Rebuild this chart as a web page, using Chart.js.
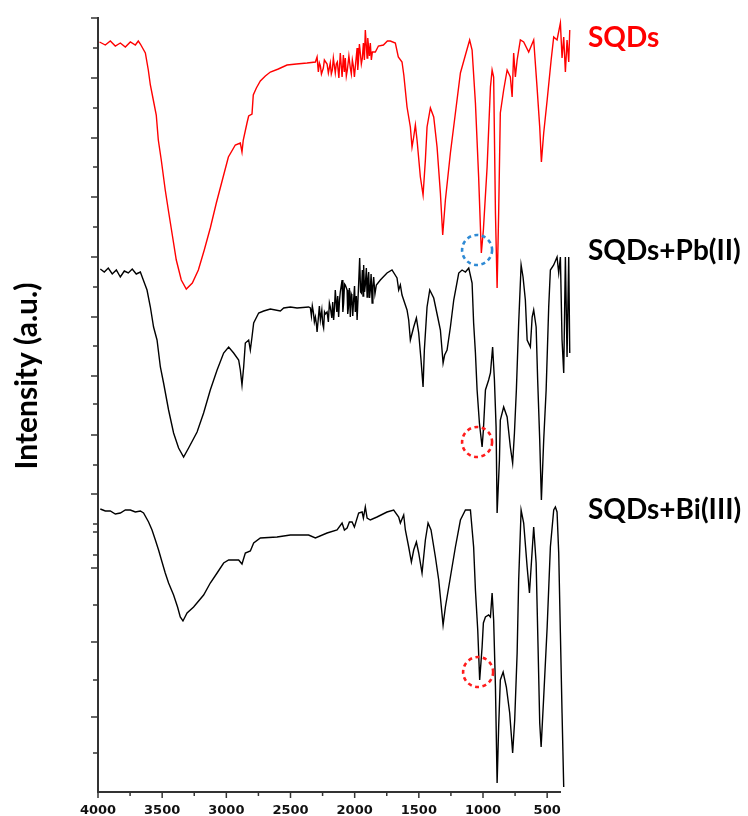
<!DOCTYPE html>
<html lang="en">
<head>
<meta charset="UTF-8">
<title>FTIR - SQDs</title>
<script src="https://cdn.jsdelivr.net/npm/chart.js@4.4.1/dist/chart.umd.min.js"></script>
<style>
  html, body { margin: 0; padding: 0; background: #fff; }
</style>
</head>
<body>
<canvas id="chart" width="748" height="816"></canvas>
<script>
// Wavenumbers (cm-1) and stacked intensities (a.u.) for each spectrum
const sqdsWn = [
  3988, 3943, 3904, 3865, 3826, 3787, 3748, 3709, 3686, 3670,
  3631, 3608, 3592, 3569, 3546, 3530, 3507, 3476, 3452, 3421,
  3390, 3351, 3312, 3265, 3218, 3172, 3125, 3078, 3031, 2984,
  2930, 2891, 2878, 2868, 2839, 2826, 2800, 2790, 2766, 2735,
  2696, 2657, 2595, 2527, 2454, 2371, 2306, 2293, 2283, 2275,
  2267, 2259, 2244, 2236, 2215, 2205, 2190, 2182, 2174, 2166,
  2151, 2143, 2135, 2123, 2112, 2098, 2088, 2080, 2073, 2065,
  2057, 2045, 2034, 2026, 2018, 2010, 2002, 1995, 1981, 1976,
  1971, 1963, 1956, 1948, 1940, 1932, 1924, 1917, 1903, 1898,
  1893, 1885, 1878, 1870, 1862, 1839, 1815, 1776, 1745, 1722,
  1683, 1660, 1631, 1617, 1592, 1566, 1553, 1540, 1527, 1514,
  1488, 1467, 1449, 1436, 1410, 1384, 1358, 1332, 1314, 1293,
  1254, 1215, 1176, 1137, 1104, 1085, 1059, 1034, 1013, 997,
  968, 942, 929, 917, 903, 890, 878, 865, 839, 812,
  787, 773, 761, 748, 734, 709, 683, 644, 605, 579,
  558, 545, 527, 500, 469, 449, 423, 397, 384, 371,
  358, 345, 332, 324
];
const sqdsInt = [
  75.0, 74.7, 75.1, 74.6, 74.9, 74.5, 75.0, 74.7, 75.1, 74.8,
  73.9, 72.2, 70.7, 69.2, 67.7, 65.2, 63.2, 60.2, 58.2, 55.7,
  53.2, 51.2, 50.3, 50.9, 52.2, 54.2, 56.4, 58.9, 61.2, 63.5,
  64.7, 64.9, 64.0, 65.2, 66.9, 67.6, 67.8, 69.7, 70.4, 71.1,
  71.6, 72.0, 72.3, 72.7, 72.8, 72.9, 73.0, 73.5, 72.0, 72.9,
  72.6, 71.8, 72.4, 73.2, 72.8, 71.9, 72.9, 71.8, 72.2, 73.4,
  71.9, 72.8, 73.0, 71.4, 73.9, 71.5, 73.7, 72.0, 73.4, 71.6,
  72.2, 73.6, 72.4, 71.8, 73.2, 72.6, 71.5, 72.5, 74.4, 72.2,
  73.0, 74.8, 73.9, 72.8, 73.4, 74.9, 73.2, 76.2, 73.4, 75.4,
  74.7, 73.6, 74.9, 73.2, 74.0, 74.0, 74.6, 74.7, 75.1, 75.1,
  74.9, 73.5, 73.0, 71.7, 68.5, 66.5, 64.5, 65.5, 66.7, 65.2,
  61.5, 59.7, 63.2, 66.5, 68.4, 67.5, 64.5, 59.9, 55.7, 59.2,
  63.9, 67.9, 71.9, 73.7, 75.2, 74.2, 68.9, 61.5, 53.9, 56.2,
  62.5, 70.5, 72.2, 71.5, 57.9, 50.4, 57.9, 67.9, 70.2, 72.2,
  71.5, 69.5, 73.9, 71.5, 73.2, 75.2, 75.0, 74.0, 75.2, 70.5,
  66.5, 63.0, 65.9, 69.2, 73.2, 75.5, 75.2, 76.9, 73.4, 75.5,
  72.0, 75.2, 73.0, 76.2
];

const pbWn = [
  3982, 3951, 3920, 3889, 3857, 3826, 3795, 3764, 3733, 3702,
  3670, 3647, 3618, 3592, 3567, 3540, 3514, 3489, 3450, 3411,
  3372, 3333, 3294, 3228, 3177, 3125, 3072, 3021, 2982, 2943,
  2904, 2891, 2878, 2865, 2852, 2826, 2813, 2800, 2787, 2748,
  2709, 2657, 2579, 2553, 2501, 2449, 2359, 2345, 2337, 2330,
  2322, 2314, 2306, 2298, 2293, 2283, 2275, 2267, 2256, 2249,
  2242, 2235, 2228, 2215, 2205, 2197, 2190, 2178, 2171, 2164,
  2157, 2151, 2139, 2132, 2125, 2118, 2112, 2098, 2092, 2086,
  2079, 2073, 2059, 2054, 2049, 2041, 2034, 2027, 2022, 2015,
  2008, 2001, 1995, 1987, 1981, 1971, 1961, 1954, 1948, 1940,
  1935, 1930, 1923, 1917, 1909, 1903, 1897, 1891, 1884, 1878,
  1872, 1864, 1858, 1852, 1842, 1831, 1800, 1748, 1709, 1670,
  1657, 1644, 1631, 1592, 1579, 1566, 1540, 1519, 1501, 1483,
  1467, 1457, 1436, 1415, 1384, 1353, 1332, 1311, 1299, 1280,
  1254, 1228, 1189, 1163, 1137, 1111, 1085, 1073, 1059, 1046,
  1028, 1007, 997, 981, 956, 942, 925, 911, 898, 890,
  872, 865, 839, 812, 787, 769, 755, 740, 722, 703,
  688, 670, 656, 631, 617, 605, 586, 574, 558, 545,
  527, 508, 488, 475, 449, 423, 410, 397, 384, 371,
  358, 345, 332, 324
];
const pbInt = [
  52.3, 52.0, 52.4, 51.8, 52.2, 51.5, 52.1, 51.9, 52.3, 51.8,
  52.0, 51.2, 50.2, 48.5, 46.5, 45.2, 42.5, 40.9, 38.2, 35.9,
  34.4, 33.5, 34.4, 36.0, 37.9, 40.2, 42.2, 43.9, 44.5, 43.9,
  43.2, 42.2, 40.7, 42.5, 44.9, 45.2, 44.2, 45.5, 46.9, 47.9,
  48.1, 48.3, 48.1, 48.4, 48.5, 48.4, 48.5, 48.4, 47.6, 48.6,
  48.0, 47.0, 47.5, 46.8, 46.0, 47.4, 48.6, 47.2, 48.2, 46.8,
  46.4, 48.0, 47.8, 48.0, 47.0, 48.9, 48.5, 47.4, 49.0, 47.2,
  48.4, 50.2, 48.0, 49.6, 47.5, 49.2, 50.0, 51.2, 48.0, 48.9,
  50.8, 50.7, 50.2, 47.8, 48.4, 50.4, 47.5, 49.8, 49.6, 47.6,
  49.2, 50.6, 48.0, 49.6, 47.2, 50.2, 53.4, 50.0, 49.9, 52.2,
  49.6, 52.7, 50.0, 50.7, 52.4, 49.5, 51.2, 52.0, 49.4, 50.2,
  51.8, 48.9, 50.6, 51.5, 49.8, 50.7, 51.2, 51.9, 52.2, 51.4,
  50.2, 50.7, 49.7, 48.2, 47.2, 45.2, 46.5, 47.4, 45.9, 43.2,
  40.5, 44.2, 48.5, 50.2, 49.4, 47.5, 46.2, 42.9, 43.7, 44.2,
  46.5, 49.2, 51.9, 52.2, 52.0, 52.4, 50.9, 46.9, 43.9, 40.2,
  36.9, 34.5, 36.2, 40.2, 41.2, 41.9, 44.5, 41.2, 36.5, 27.9,
  33.2, 37.2, 38.5, 37.5, 34.5, 32.9, 35.9, 40.2, 46.9, 52.7,
  51.5, 49.2, 45.2, 44.5, 47.5, 48.2, 46.5, 41.2, 35.2, 29.2,
  35.2, 40.2, 48.5, 52.2, 52.7, 53.5, 51.9, 53.5, 45.2, 41.9,
  53.5, 43.5, 53.5, 43.9
];

const biWn = [
  3982, 3943, 3904, 3865, 3826, 3787, 3748, 3709, 3670, 3645,
  3606, 3579, 3553, 3528, 3501, 3476, 3450, 3411, 3380, 3359,
  3338, 3306, 3255, 3177, 3125, 3072, 3021, 2982, 2904, 2878,
  2852, 2813, 2787, 2735, 2605, 2501, 2359, 2306, 2215, 2137,
  2098, 2080, 2059, 2041, 2020, 2002, 1969, 1942, 1932, 1917,
  1903, 1878, 1826, 1748, 1696, 1657, 1644, 1618, 1605, 1579,
  1558, 1540, 1519, 1501, 1475, 1449, 1428, 1405, 1371, 1345,
  1311, 1293, 1254, 1215, 1176, 1137, 1098, 1073, 1059, 1041,
  1026, 1007, 997, 981, 956, 942, 929, 917, 903, 890,
  878, 865, 843, 818, 792, 769, 753, 734, 722, 703,
  683, 656, 638, 623, 605, 586, 571, 558, 547, 527,
  500, 475, 449, 436, 423, 410, 397, 384, 371
];
const biInt = [
  28.3, 28.1, 28.1, 27.8, 27.9, 28.2, 28.2, 28.0, 28.1, 27.9,
  27.0, 26.2, 25.2, 24.2, 23.0, 21.9, 20.9, 19.7, 18.5, 17.5,
  17.1, 17.9, 18.5, 19.7, 20.9, 21.9, 22.9, 23.2, 23.2, 22.8,
  23.9, 24.1, 24.9, 25.4, 25.5, 25.7, 25.7, 25.4, 25.9, 26.2,
  26.9, 26.2, 26.4, 27.0, 27.0, 26.5, 27.9, 28.0, 27.4, 28.5,
  27.4, 27.2, 27.5, 28.0, 28.2, 27.5, 26.9, 27.7, 26.2, 24.5,
  23.0, 24.2, 25.0, 23.9, 21.9, 25.2, 26.9, 26.2, 23.5, 21.2,
  16.7, 18.5, 21.5, 24.5, 27.2, 28.2, 28.2, 24.5, 20.2, 16.2,
  11.2, 14.5, 16.9, 17.5, 17.7, 17.5, 19.9, 17.2, 10.5, 0.9,
  6.5, 11.2, 12.0, 10.5, 7.9, 3.9, 7.2, 13.9, 21.2, 28.2,
  26.9, 22.5, 19.9, 22.9, 26.5, 22.9, 14.5, 6.9, 4.5, 9.5,
  16.5, 24.5, 28.2, 28.5, 28.0, 23.9, 15.9, 7.9, 0.5
];

const seriesNames = ['SQDs', 'SQDs+Pb(II)', 'SQDs+Bi(III)'];
const seriesColors = ['#ff0000', '#000000', '#000000'];

// axis ticks
const xTickLabels = [4000, 3500, 3000, 2500, 2000, 1500, 1000, 500];
const xMinorTicks = [3750, 3250, 2750, 2250, 1750, 1250, 750];
const yMajorTicks = [77.4, 71.4, 65.4, 59.5, 53.5, 47.5, 41.6, 35.7, 29.8, 22.4, 15.0, 7.5];
const yMinorTicks = [74.4, 68.4, 62.5, 56.5, 50.5, 44.6, 38.8, 32.7, 26.8, 26.0, 23.7, 18.7, 11.2, 3.9];

// dashed circles around the ~1040 cm-1 band
const markWn = [1046, 1046, 1038];
const markInt = [54.2, 35.0, 12.0];
const markColors = ['#2f8ad4', '#ff1c1c', '#ff1c1c'];

const toPoints = (wn, val) => wn.map((w, i) => ({ x: w, y: val[i] }));

// tick marks, circles, spectrum names and the y title
const decor = {
  id: 'decor',
  afterDraw(chart) {
    const { ctx, chartArea, scales: { x, y } } = chart;
    ctx.save();
    ctx.strokeStyle = '#333';
    ctx.lineWidth = 1.5;
    const line = (x1, y1, x2, y2) => {
      ctx.beginPath();
      ctx.moveTo(x1, y1);
      ctx.lineTo(x2, y2);
      ctx.stroke();
    };
    xTickLabels.forEach(v => { const p = x.getPixelForValue(v); line(p, chartArea.bottom, p, chartArea.bottom + 6); });
    xMinorTicks.forEach(v => { const p = x.getPixelForValue(v); line(p, chartArea.bottom, p, chartArea.bottom + 4); });
    yMajorTicks.forEach(v => { const p = y.getPixelForValue(v); line(chartArea.left - 7, p, chartArea.left, p); });
    yMinorTicks.forEach(v => { const p = y.getPixelForValue(v); line(chartArea.left - 5, p, chartArea.left, p); });

    ctx.lineWidth = 2.6;
    ctx.setLineDash([4, 3.5]);
    markWn.forEach((w, i) => {
      ctx.strokeStyle = markColors[i];
      ctx.beginPath();
      ctx.arc(x.getPixelForValue(w), y.getPixelForValue(markInt[i]), 15, 0, Math.PI * 2);
      ctx.stroke();
    });
    ctx.setLineDash([]);

    ctx.font = 'bold 28px Lato';
    ctx.textAlign = 'left';
    ctx.textBaseline = 'alphabetic';
    const baselines = [47, 260, 519];
    seriesNames.forEach((name, i) => {
      ctx.fillStyle = seriesColors[i];
      ctx.fillText(name, chartArea.right + 28, baselines[i]);
    });

    ctx.fillStyle = '#000';
    ctx.font = 'bold 30px Lato';
    ctx.translate(37, 376);
    ctx.rotate(-Math.PI / 2);
    ctx.textAlign = 'center';
    ctx.fillText('Intensity (a.u.)', 0, 0);
    ctx.restore();
  }
};

const ctx = document.getElementById('chart').getContext('2d');
new Chart(ctx, {
  type: 'line',
  data: {
    datasets: [
      { label: seriesNames[0], data: toPoints(sqdsWn, sqdsInt), borderColor: seriesColors[0] },
      { label: seriesNames[1], data: toPoints(pbWn, pbInt), borderColor: seriesColors[1] },
      { label: seriesNames[2], data: toPoints(biWn, biInt), borderColor: seriesColors[2] }
    ].map(d => ({ ...d, borderWidth: 1.4, pointRadius: 0, tension: 0, clip: false, fill: false }))
  },
  options: {
    responsive: false,
    animation: false,
    devicePixelRatio: 1,
    layout: { padding: { top: 18, right: 188, bottom: 0, left: 0 } },
    plugins: { legend: { display: false }, tooltip: { enabled: false } },
    scales: {
      x: {
        type: 'linear',
        reverse: true,
        min: 400,
        max: 4000,
        afterBuildTicks: s => { s.ticks = xTickLabels.map(v => ({ value: v })); },
        afterFit: s => { s.height = 24; },
        grid: { display: false, drawTicks: false },
        border: { display: true, color: '#333', width: 2 },
        ticks: {
          color: '#111',
          padding: 11,
          maxRotation: 0,
          autoSkip: false,
          font: { family: "'DejaVu Sans'", weight: 'bold', size: 13 },
          callback: v => String(v)
        }
      },
      y: {
        min: 0,
        max: 77.4,
        afterFit: s => { s.width = 98; },
        grid: { display: false, drawTicks: false },
        border: { display: true, color: '#333', width: 2 },
        ticks: { display: false }
      }
    }
  },
  plugins: [decor]
});
</script>
</body>
</html>
